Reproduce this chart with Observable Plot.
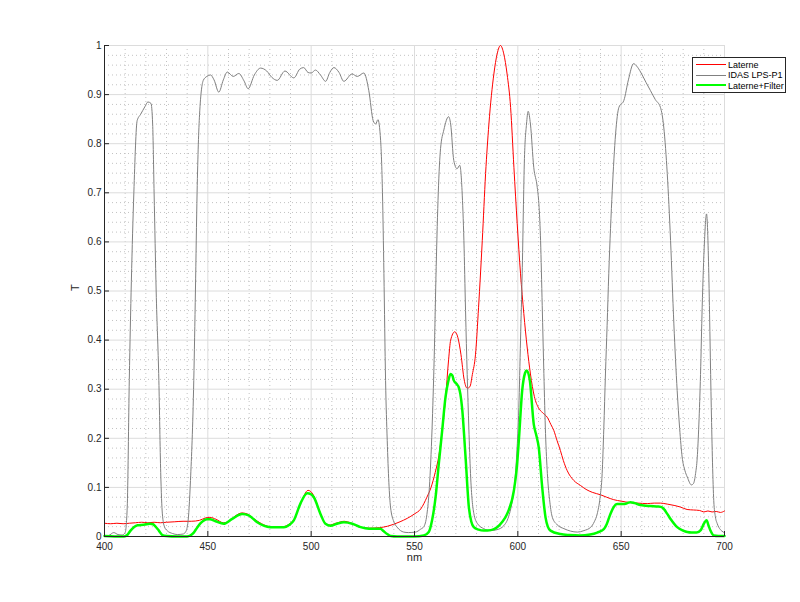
<!DOCTYPE html>
<html><head><meta charset="utf-8">
<script src="https://cdn.jsdelivr.net/npm/d3@7"></script>
<script src="https://cdn.jsdelivr.net/npm/@observablehq/plot@0.6"></script>
<style>
body{margin:0;background:#fff;}
#wrap{position:relative;width:800px;height:602px;overflow:hidden;font-family:"Liberation Sans",Arial,sans-serif;}
#legend{position:absolute;left:692px;top:57px;width:92px;height:34px;border:1px solid #262626;background:#fff;font-size:9px;color:#000;}
.row{position:absolute;left:0;width:92px;height:10px;}
.sw{position:absolute;left:3px;width:30px;height:0;}
.lab{position:absolute;left:35px;top:0;white-space:nowrap;line-height:10px;}
</style></head><body><div id="wrap"></div>
<script>
// Axis ticks
const xTicks = [400, 450, 500, 550, 600, 650, 700];
const yTicks = [0, 0.1, 0.2, 0.3, 0.4, 0.5, 0.6, 0.7, 0.8, 0.9, 1];
const xMinor = d3.range(410, 700, 10).filter(v => v % 50 !== 0);
const yMinor = d3.range(1, 50).filter(i => i % 5 !== 0).map(i => i / 50);

// Series labels
const seriesNames = ["Laterne", "IDAS LPS-P1", "Laterne+Filter"];
const seriesColors = ["#ff0000", "#808080", "#00ff00"];

// Laterne (red)
const redNm = [400,403,406,409,412,415,418,421,424,427,430,434,438,442,446,449,451,454,457.5,460,463,466.5,469,472,476,480,485,489,492,495,498.5,501,503.5,506,508.5,512,516,519,523,528,533,537,540,543,546.5,550,553,556,558,560,561.8,563.4,565,566.5,567.5,569.5,571,572.5,574,575.5,576.8,578,579.5,581,582.8,584.4,586,588.4,590,591.6,593.2,594.8,596.5,598.1,599.7,601.3,602.9,604.5,606.1,608,610,612,614.2,616,617.4,619,620.6,622,623.9,627.1,630.3,633,636,640,643,646.4,650,654.5,658,662.6,666,669,672.3,676,678.7,681.9,685,688,690,692,694,696,698,700];
const redT = [0.027,0.026,0.027,0.026,0.027,0.028,0.029,0.028,0.029,0.028,0.029,0.030,0.031,0.031,0.033,0.038,0.039,0.035,0.028,0.030,0.041,0.048,0.046,0.037,0.026,0.020,0.019,0.024,0.037,0.068,0.094,0.085,0.058,0.032,0.023,0.027,0.031,0.028,0.020,0.017,0.018,0.021,0.025,0.030,0.037,0.046,0.056,0.080,0.100,0.130,0.165,0.216,0.280,0.360,0.400,0.417,0.405,0.370,0.320,0.302,0.305,0.330,0.370,0.467,0.603,0.739,0.840,0.942,0.983,1.0,0.983,0.942,0.874,0.752,0.637,0.535,0.454,0.386,0.331,0.285,0.262,0.252,0.243,0.228,0.216,0.195,0.175,0.155,0.134,0.114,0.104,0.096,0.090,0.085,0.080,0.075,0.072,0.069,0.068,0.067,0.068,0.068,0.066,0.063,0.060,0.055,0.054,0.053,0.050,0.052,0.050,0.051,0.049,0.052];

// IDAS LPS-P1 (gray)
const grayNm = [400,402,404.5,406.5,408.5,410,411,412,413,414.2,415.8,417.5,419.5,421,422.5,423.3,424,425,426.3,427.2,428,429,430.3,433,435.2,438,439.2,440.3,441.6,443.2,444,444.8,446,447.8,449.5,451.3,453,455.3,457.5,459.4,462.3,465,467.5,469.5,472.5,475.5,478.5,481,483.6,487.3,491.6,494.5,496.4,498.5,500,502.1,504.5,507,509,511,513.5,515.8,519.8,522.3,525.5,527.9,530,531.2,532.3,533.6,534.5,535.2,536,536.8,538.4,540,541.6,544.8,547,550.5,553,554.5,556,557.2,558.5,559.5,560.5,561.5,562.6,564.2,566.5,567.5,569,570.6,571.9,573,573.9,574.7,575.5,576.3,577.1,578.7,580.5,583.5,586.8,590,593.2,595.5,597,598.1,599.5,600.5,601.3,602.1,603.2,604.2,605,606.1,607.7,609.4,610.3,611,611.8,612.6,613.4,614.3,615.5,616.7,619,622.3,625.5,628.8,632,635.3,637,638.4,639.8,640.8,641.6,642.4,643.2,644,645.7,647.3,648.9,651.3,653.5,656,657.5,659.4,662,664.2,666.5,669,670.6,671.5,672.3,673.9,675.5,677.1,678.3,679.5,680.8,682,684,685,686,686.8,687.6,688.4,689.2,690.3,691.3,692.4,693,693.6,694.2,694.8,695.6,696.5,698,699.4,700];
const grayT = [0.001,0.002,0.008,0.004,0.003,0.008,0.06,0.32,0.52,0.70,0.847,0.86,0.875,0.885,0.882,0.84,0.70,0.50,0.318,0.13,0.046,0.02,0.012,0.006,0.004,0.005,0.009,0.026,0.114,0.318,0.50,0.70,0.86,0.929,0.937,0.940,0.93,0.905,0.93,0.946,0.937,0.943,0.928,0.912,0.94,0.954,0.948,0.935,0.929,0.948,0.934,0.952,0.955,0.945,0.944,0.950,0.94,0.927,0.945,0.955,0.945,0.927,0.942,0.937,0.944,0.908,0.847,0.84,0.849,0.807,0.70,0.536,0.318,0.196,0.06,0.03,0.019,0.009,0.008,0.009,0.015,0.02,0.045,0.10,0.22,0.36,0.55,0.70,0.79,0.828,0.855,0.84,0.766,0.749,0.756,0.705,0.603,0.46,0.33,0.22,0.128,0.047,0.026,0.016,0.012,0.014,0.022,0.04,0.065,0.094,0.17,0.263,0.40,0.535,0.77,0.84,0.866,0.84,0.752,0.711,0.67,0.603,0.47,0.332,0.21,0.128,0.07,0.039,0.024,0.016,0.011,0.009,0.012,0.019,0.03,0.046,0.08,0.128,0.22,0.331,0.43,0.535,0.705,0.82,0.874,0.888,0.93,0.963,0.958,0.946,0.925,0.908,0.89,0.874,0.834,0.79,0.739,0.603,0.433,0.297,0.22,0.162,0.135,0.121,0.105,0.108,0.128,0.16,0.229,0.33,0.467,0.60,0.657,0.535,0.40,0.263,0.15,0.073,0.04,0.026,0.014,0.009,0.007];

// Laterne+Filter (green)
const greenNm = [400,405,409.5,411,412.6,414.2,416,419,422,423.5,424.5,426.3,428,430,435,440,441.5,443.2,444.8,446.5,449.7,451,453.7,457.7,461.8,466.6,469.8,473.9,477,480.3,486.8,489.5,491.6,494.8,498.1,500,501.3,504.5,506.9,509.4,512.5,515.8,519.9,523.9,528,533.5,535,536.8,538.5,541.6,550,554.5,556.9,558.5,560.2,561.8,563.4,565,566.3,567.4,568.3,569,570.5,571.4,572.2,573,574.7,576.3,577.5,578.7,581,583.5,587,590,592.5,594.8,598.1,599.5,600.5,602.1,603.5,604.3,605.8,607.7,609,610.1,611.8,613.4,614.5,615.8,620.6,625,630,635,638.4,641.6,643,644.8,646.4,648,651,653,654.5,656.5,659.4,664,668,670,672.3,674,677.1,680,682,684,686.5,688.5,690,691.3,692.3,693.2,694.8,697,700];
const greenT = [0.001,0.0,0.0,0.003,0.012,0.019,0.023,0.024,0.026,0.025,0.021,0.012,0.003,0.001,0.0,0.0,0.002,0.008,0.018,0.027,0.035,0.035,0.031,0.026,0.036,0.046,0.043,0.029,0.022,0.019,0.019,0.024,0.033,0.067,0.088,0.086,0.080,0.046,0.026,0.022,0.026,0.029,0.026,0.019,0.016,0.016,0.011,0.005,0.001,0.0,0.0,0.002,0.009,0.033,0.080,0.15,0.216,0.284,0.315,0.331,0.328,0.318,0.31,0.304,0.29,0.263,0.162,0.060,0.03,0.019,0.014,0.012,0.013,0.019,0.03,0.046,0.094,0.14,0.196,0.297,0.333,0.338,0.318,0.229,0.205,0.182,0.100,0.039,0.02,0.012,0.005,0.003,0.002,0.004,0.008,0.015,0.025,0.046,0.060,0.066,0.066,0.068,0.070,0.068,0.064,0.062,0.061,0.059,0.046,0.035,0.019,0.012,0.009,0.008,0.008,0.013,0.026,0.033,0.022,0.012,0.002,0.001,0.001];

const rows = (xs, ys) => xs.map((x, i) => ({nm: x, t: ys[i]}));
const redRows = rows(redNm, redT);
const grayRows = rows(grayNm, grayT);
const greenRows = rows(greenNm, greenT);

const axisColor = "#262626";
const chart = Plot.plot({
  width: 800, height: 602,
  marginLeft: 104, marginRight: 76, marginTop: 45, marginBottom: 66,
  style: {background: "#fff", fontFamily: "'Liberation Sans', Arial, sans-serif", fontSize: "10px", color: axisColor, overflow: "visible"},
  x: {domain: [400, 700]},
  y: {domain: [0, 1]},
  marks: [
    Plot.ruleX(xMinor, {stroke: "#c2c2c2", strokeDasharray: "1,3"}),
    Plot.ruleY(yMinor, {stroke: "#c2c2c2", strokeDasharray: "1,3"}),
    Plot.ruleX(xTicks, {stroke: "#dcdcdc"}),
    Plot.ruleY(yTicks, {stroke: "#dcdcdc"}),
    Plot.line(redRows, {x: "nm", y: "t", stroke: seriesColors[0], strokeWidth: 1, curve: "monotone-x"}),
    Plot.line(grayRows, {x: "nm", y: "t", stroke: seriesColors[1], strokeWidth: 1, curve: "monotone-x"}),
    Plot.line(greenRows, {x: "nm", y: "t", stroke: seriesColors[2], strokeWidth: 2.5, curve: "monotone-x"}),
    Plot.ruleX([400], {stroke: axisColor}),
    Plot.ruleY([0], {stroke: axisColor}),
    Plot.axisX(xTicks, {tickSize: -5, tickPadding: 11, stroke: axisColor, fill: axisColor, tickFormat: d => String(d), label: null}),
    Plot.axisY(yTicks, {tickSize: -5, tickPadding: 8, stroke: axisColor, fill: axisColor, tickFormat: d => String(d), label: null}),
    Plot.text(["nm"], {frameAnchor: "bottom", dy: 24, fontSize: 11, fill: axisColor}),
    Plot.text(["T"], {frameAnchor: "left", dx: -29, rotate: -90, fontSize: 11, fill: axisColor})
  ]
});

const wrap = document.getElementById("wrap");
wrap.appendChild(chart);

// Legend overlay
const legend = document.createElement("div");
legend.id = "legend";
const centers = [6.5, 17, 27.5];
const widths = [1, 1, 2.5];
seriesNames.forEach((name, i) => {
  const row = document.createElement("div");
  row.className = "row";
  row.style.top = (centers[i] - 5) + "px";
  const sw = document.createElement("div");
  sw.className = "sw";
  sw.style.top = (5 - widths[i] / 2) + "px";
  sw.style.borderTop = widths[i] + "px solid " + seriesColors[i];
  const lab = document.createElement("div");
  lab.className = "lab";
  lab.textContent = name;
  row.appendChild(sw);
  row.appendChild(lab);
  legend.appendChild(row);
});
wrap.appendChild(legend);
</script></body></html>
